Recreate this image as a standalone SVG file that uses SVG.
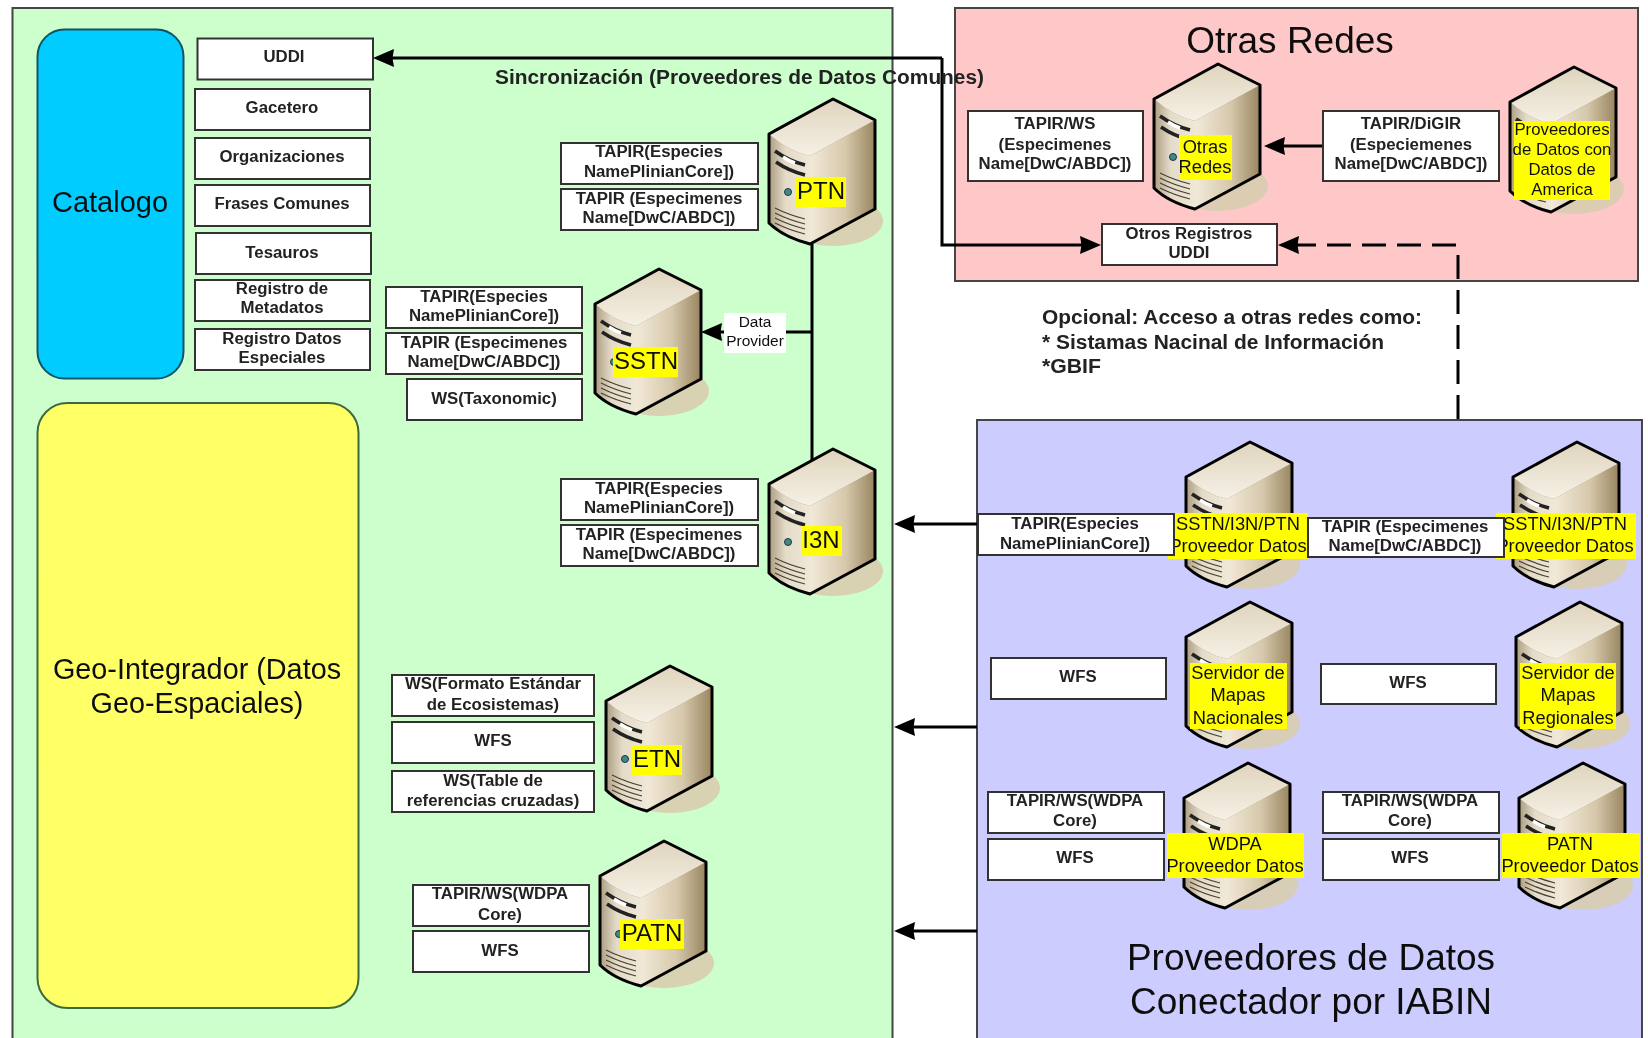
<svg xmlns="http://www.w3.org/2000/svg" width="1648" height="1038" viewBox="0 0 1648 1038">
<style>
text{font-family:"Liberation Sans",Arial,sans-serif;fill:#111}
.panel{stroke:#444;stroke-width:2}
.box{fill:#fff;stroke:#333;stroke-width:2}
.t,.n{font-size:16.800px;font-weight:bold;text-anchor:middle;fill:#222}
.big{text-anchor:middle;font-size:37px}
.lab{font-size:18.300px;text-anchor:middle}
.yl{fill:#ffff00}
.note{font-size:20px;font-weight:bold;fill:#222}
.cn{fill:none;stroke:#000;stroke-width:3}
</style>
<defs>
<filter id="soft" x="0" y="0" width="100%" height="100%" filterUnits="userSpaceOnUse"><feGaussianBlur stdDeviation="0.5"/></filter>
<marker id="ah" markerUnits="userSpaceOnUse" markerWidth="24" markerHeight="20" refX="16" refY="9" orient="auto-start-reverse"><path d="M0 0L21 9L0 18L1.500 9Z" fill="#000"/></marker>
<linearGradient id="gTop" x1="0" y1="0" x2="0" y2="1"><stop offset="0" stop-color="#dfd4bd"/><stop offset="1" stop-color="#f6f1e6"/></linearGradient>
<linearGradient id="gRight" x1="0" y1="0" x2="1" y2="0"><stop offset="0" stop-color="#f2e9d8"/><stop offset="0.55" stop-color="#d6c8ab"/><stop offset="1" stop-color="#98855f"/></linearGradient>
<linearGradient id="gFront" x1="0" y1="0" x2="1" y2="0"><stop offset="0" stop-color="#ab9c80"/><stop offset="0.4" stop-color="#e4dbc8"/><stop offset="1" stop-color="#efe8d8"/></linearGradient>
<g id="srv">
<ellipse cx="0" cy="122" rx="50" ry="25" fill="#d9cdb0" fill-opacity="0.92"/>
<path d="M0 0L42 21L42 110L-23 145L-64 124L-64 35Z" fill="#8d7a58"/>
<path d="M-23 57L42 21L42 110L-23 145Z" fill="url(#gRight)"/>
<path d="M-64 35Q-45 52-23 57L-23 145Q-50 138-64 124Z" fill="url(#gFront)"/>
<path d="M0 0L42 21L-23 57Q-45 52-64 35Z" fill="url(#gTop)"/>
<path d="M0 0L42 21L42 110L-23 145Q-50 138-64 124L-64 35Z" fill="none" stroke="#000" stroke-width="3" stroke-linejoin="round"/>
<path d="M-58 52Q-44 62-28 66" fill="none" stroke="#222" stroke-width="3.500"/>
<path d="M-57 63Q-44 72-28 76" fill="none" stroke="#222" stroke-width="3.500"/>
<path d="M-50 58Q-44 62-38 64" fill="none" stroke="#fff" stroke-width="3.500"/>
<circle cx="-45" cy="93" r="3.5" fill="#3d8a86" stroke="#234" stroke-width="1"/>
<path d="M-58 109Q-44 116-28 120M-58 114Q-44 121-28 125M-58 119Q-44 126-28 130M-58 124Q-44 131-28 135" fill="none" stroke="#4a4030" stroke-width="1.200"/>
</g>
</defs>
<rect width="1648" height="1038" fill="#fff"/>
<g id="diagram" filter="url(#soft)">
<g id="panels">
<rect id="panel-verde" class="panel" x="12.500" y="8" width="880" height="1040" fill="#ccffcc"/>
<rect id="panel-rosa" class="panel" x="955" y="8" width="683" height="273" fill="#ffc8c8"/>
<rect id="panel-azul" class="panel" x="977" y="420" width="665" height="630" fill="#ccccff"/>
<text class="big" x="1290" y="53">Otras Redes</text>
<text class="big" x="1311" y="970">Proveedores de Datos</text>
<text class="big" x="1311" y="1014">Conectador por IABIN</text>
</g>
<g id="catalogo"><rect x="37.500" y="29.500" width="146" height="349" rx="27" fill="#00ccff" stroke="#0f5566" stroke-width="2"/>
<text x="110" y="212" text-anchor="middle" font-size="29" fill="#0a2a3a">Catalogo</text></g>
<g id="geo"><rect x="37.500" y="403" width="321" height="605" rx="30" fill="#ffff66" stroke="#3c6a3c" stroke-width="2"/>
<text x="197" y="679" text-anchor="middle" font-size="28.800">Geo-Integrador (Datos</text>
<text x="197" y="713" text-anchor="middle" font-size="28.800">Geo-Espaciales)</text></g>

<g id="n-uddi"><rect class="box" x="197.500" y="38.500" width="175.500" height="41"/><text class="t" x="284" y="62">UDDI</text></g>
<g id="n-gacetero"><rect class="box" x="195" y="89" width="175" height="41"/><text class="t" x="282" y="113">Gacetero</text></g>
<g id="n-organizaciones"><rect class="box" x="195" y="138" width="175" height="41"/><text class="t" x="282" y="162">Organizaciones</text></g>
<g id="n-frases"><rect class="box" x="195" y="185" width="175" height="41"/><text class="t" x="282" y="209">Frases Comunes</text></g>
<g id="n-tesauros"><rect class="box" x="196" y="233" width="175" height="41"/><text class="t" x="282" y="258">Tesauros</text></g>
<g id="n-metadatos"><rect class="box" x="195" y="280" width="175" height="41"/><text class="t" x="282" y="294">Registro de</text><text class="t" x="282" y="313">Metadatos</text></g>
<g id="n-especiales"><rect class="box" x="195" y="329" width="175" height="41"/><text class="t" x="282" y="344">Registro Datos</text><text class="t" x="282" y="363">Especiales</text></g>

<g id="connectors">
<path class="cn" d="M942 58H378" marker-end="url(#ah)"/>
<path class="cn" d="M942 58V245H1096" marker-end="url(#ah)"/>
<path class="cn" d="M812 243V460"/>
<path class="cn" d="M812 332H706" marker-end="url(#ah)"/>
<path class="cn" d="M1323 146H1269" marker-end="url(#ah)"/>
<path class="cn" stroke-dasharray="24 11" d="M1456 245H1283" marker-end="url(#ah)"/>
<path class="cn" stroke-dasharray="24 11" d="M1458 419V250"/>
<path class="cn" d="M977 524H899" marker-end="url(#ah)"/>
<path class="cn" d="M977 727H899" marker-end="url(#ah)"/>
<path class="cn" d="M977 931H899" marker-end="url(#ah)"/>
</g>
<text id="sync" class="note" x="495" y="84" textLength="489" lengthAdjust="spacingAndGlyphs">Sincronización (Proveedores de Datos Comunes)</text>
<g id="data-provider"><rect x="724" y="313" width="62" height="40" fill="#fff"/>
<text x="755" y="327" font-size="15.500" text-anchor="middle" fill="#222">Data</text><text x="755" y="346" font-size="15.500" text-anchor="middle" fill="#222">Provider</text></g>

<g id="n-ptn"><use href="#srv" x="833" y="99"/><rect class="yl" x="796" y="177" width="50" height="30"/><text x="821" y="199" font-size="24" text-anchor="middle">PTN</text></g>
<g id="n-ptn-a"><rect class="box" x="561" y="143" width="197" height="41"/><text class="t" x="659" y="157">TAPIR(Especies</text><text class="t" x="659" y="177">NamePlinianCore])</text></g>
<g id="n-ptn-b"><rect class="box" x="561" y="189" width="197" height="41"/><text class="t" x="659" y="204">TAPIR (Especimenes</text><text class="t" x="659" y="223">Name[DwC/ABDC])</text></g>

<g id="n-sstn"><use href="#srv" x="659" y="269"/><rect class="yl" x="613" y="347" width="65" height="30"/><text x="646" y="369" font-size="24" text-anchor="middle">SSTN</text></g>
<g id="n-sstn-a"><rect class="box" x="386" y="287" width="196" height="41"/><text class="t" x="484" y="302">TAPIR(Especies</text><text class="t" x="484" y="321">NamePlinianCore])</text></g>
<g id="n-sstn-b"><rect class="box" x="386" y="333" width="196" height="41"/><text class="t" x="484" y="348">TAPIR (Especimenes</text><text class="t" x="484" y="367">Name[DwC/ABDC])</text></g>
<g id="n-sstn-c"><rect class="box" x="407" y="379" width="175" height="41"/><text class="t" x="494" y="404">WS(Taxonomic)</text></g>

<g id="n-i3n"><use href="#srv" x="833" y="449"/><rect class="yl" x="802" y="526" width="40" height="30"/><text x="821" y="548" font-size="24" text-anchor="middle">I3N</text></g>
<g id="n-i3n-a"><rect class="box" x="561" y="479" width="197" height="41"/><text class="t" x="659" y="494">TAPIR(Especies</text><text class="t" x="659" y="513">NamePlinianCore])</text></g>
<g id="n-i3n-b"><rect class="box" x="561" y="525" width="197" height="41"/><text class="t" x="659" y="540">TAPIR (Especimenes</text><text class="t" x="659" y="559">Name[DwC/ABDC])</text></g>

<g id="n-etn"><use href="#srv" x="670" y="666"/><rect class="yl" x="632" y="745" width="50" height="30"/><text x="657" y="767" font-size="24" text-anchor="middle">ETN</text></g>
<g id="n-etn-a"><rect class="box" x="392" y="675" width="202" height="41"/><text class="t" x="493" y="689">WS(Formato Estándar</text><text class="t" x="493" y="710">de Ecosistemas)</text></g>
<g id="n-etn-b"><rect class="box" x="392" y="722" width="202" height="41"/><text class="t" x="493" y="746">WFS</text></g>
<g id="n-etn-c"><rect class="box" x="392" y="771" width="202" height="41"/><text class="t" x="493" y="786">WS(Table de</text><text class="t" x="493" y="806">referencias cruzadas)</text></g>

<g id="n-patn"><use href="#srv" x="664" y="841"/><rect class="yl" x="620" y="919" width="64" height="30"/><text x="652" y="941" font-size="24" text-anchor="middle">PATN</text></g>
<g id="n-patn-a"><rect class="box" x="413" y="885" width="176" height="41"/><text class="t" x="500" y="899">TAPIR/WS(WDPA</text><text class="t" x="500" y="920">Core)</text></g>
<g id="n-patn-b"><rect class="box" x="413" y="931" width="176" height="41"/><text class="t" x="500" y="956">WFS</text></g>

<g id="n-otras"><use href="#srv" x="1218" y="64"/><rect class="yl" x="1179" y="135" width="53" height="45"/><text class="lab" x="1205" y="153">Otras</text><text class="lab" x="1205" y="173">Redes</text></g>
<g id="n-tapirws"><rect class="box" x="968" y="111" width="175" height="70"/><text class="n" x="1055" y="129">TAPIR/WS</text><text class="n" x="1055" y="150">(Especimenes</text><text class="n" x="1055" y="169">Name[DwC/ABDC])</text></g>
<g id="n-america"><use href="#srv" x="1574" y="67"/><rect class="yl" x="1514" y="121" width="96" height="79"/><text class="lab" style="font-size:16.800px" x="1562" y="135">Proveedores</text><text class="lab" style="font-size:16.800px" x="1562" y="155">de Datos con</text><text class="lab" style="font-size:16.800px" x="1562" y="175">Datos de</text><text class="lab" style="font-size:16.800px" x="1562" y="195">America</text></g>
<g id="n-digir"><rect class="box" x="1323" y="111" width="176" height="70"/><text class="n" x="1411" y="129">TAPIR/DiGIR</text><text class="n" x="1411" y="150">(Especiemenes</text><text class="n" x="1411" y="169">Name[DwC/ABDC])</text></g>
<g id="n-otros"><rect class="box" x="1102" y="224" width="175" height="41"/><text class="n" x="1189" y="239">Otros Registros</text><text class="n" x="1189" y="258">UDDI</text></g>
<text id="opcional" class="note"><tspan x="1042" y="324" textLength="380" lengthAdjust="spacingAndGlyphs">Opcional: Acceso a otras redes como:</tspan><tspan x="1042" y="349" textLength="342" lengthAdjust="spacingAndGlyphs">* Sistamas Nacinal de Información</tspan><tspan x="1042" y="373" textLength="59" lengthAdjust="spacingAndGlyphs">*GBIF</tspan></text>

<g id="n-prov1"><use href="#srv" x="1250" y="442"/><rect class="yl" x="1168" y="513" width="140" height="46"/><text class="lab" x="1238" y="530">SSTN/I3N/PTN</text><text class="lab" x="1238" y="552">Proveedor Datos</text></g>
<g id="n-prov2"><use href="#srv" x="1577" y="442"/><rect class="yl" x="1496" y="513" width="140" height="46"/><text class="lab" x="1565" y="530">SSTN/I3N/PTN</text><text class="lab" x="1565" y="552">Proveedor Datos</text></g>
<g id="n-prov1-a"><rect class="box" x="978" y="514" width="196" height="41"/><text class="n" x="1075" y="529">TAPIR(Especies</text><text class="n" x="1075" y="549">NamePlinianCore])</text></g>
<g id="n-prov2-a"><rect class="box" x="1308" y="518" width="196" height="39"/><text class="n" x="1405" y="532">TAPIR (Especimenes</text><text class="n" x="1405" y="551">Name[DwC/ABDC])</text></g>

<g id="n-map1"><use href="#srv" x="1250" y="602"/><rect class="yl" x="1190" y="663" width="97" height="66"/><text class="lab" x="1238" y="679">Servidor de</text><text class="lab" x="1238" y="701">Mapas</text><text class="lab" x="1238" y="724">Nacionales</text></g>
<g id="n-map1-a"><rect class="box" x="991" y="658" width="175" height="41"/><text class="n" x="1078" y="682">WFS</text></g>
<g id="n-map2"><use href="#srv" x="1580" y="602"/><rect class="yl" x="1520" y="663" width="96" height="66"/><text class="lab" x="1568" y="679">Servidor de</text><text class="lab" x="1568" y="701">Mapas</text><text class="lab" x="1568" y="724">Regionales</text></g>
<g id="n-map2-a"><rect class="box" x="1321" y="664" width="175" height="40"/><text class="n" x="1408" y="688">WFS</text></g>

<g id="n-wdpa"><use href="#srv" x="1248" y="763"/><rect class="yl" x="1167" y="833" width="137" height="45"/><text class="lab" x="1235" y="850">WDPA</text><text class="lab" x="1235" y="872">Proveedor Datos</text></g>
<g id="n-wdpa-a"><rect class="box" x="988" y="792" width="176" height="41"/><text class="n" x="1075" y="806">TAPIR/WS(WDPA</text><text class="n" x="1075" y="826">Core)</text></g>
<g id="n-wdpa-b"><rect class="box" x="988" y="839" width="176" height="41"/><text class="n" x="1075" y="863">WFS</text></g>
<g id="n-patnp"><use href="#srv" x="1583" y="763"/><rect class="yl" x="1502" y="833" width="138" height="45"/><text class="lab" x="1570" y="850">PATN</text><text class="lab" x="1570" y="872">Proveedor Datos</text></g>
<g id="n-patnp-a"><rect class="box" x="1323" y="792" width="176" height="41"/><text class="n" x="1410" y="806">TAPIR/WS(WDPA</text><text class="n" x="1410" y="826">Core)</text></g>
<g id="n-patnp-b"><rect class="box" x="1323" y="839" width="176" height="41"/><text class="n" x="1410" y="863">WFS</text></g>
</g>
</svg>
